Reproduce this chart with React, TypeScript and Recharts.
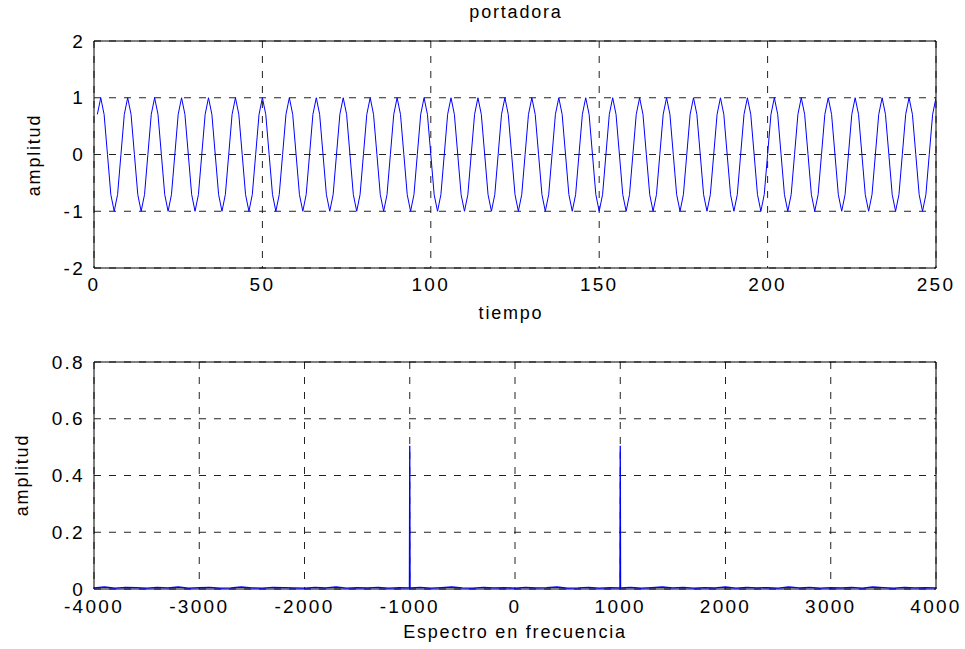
import React from "react";
import {
  LineChart,
  Line,
  XAxis,
  YAxis,
  CartesianGrid,
  ReferenceArea,
} from "recharts";

// carrier samples n = 1..250
const carrierValues = [
  0.707, 1, 0.707, 0, -0.707, -1, -0.707, 0,
  0.707, 1, 0.707, 0, -0.707, -1, -0.707, 0,
  0.707, 1, 0.707, 0, -0.707, -1, -0.707, 0,
  0.707, 1, 0.707, 0, -0.707, -1, -0.707, 0,
  0.707, 1, 0.707, 0, -0.707, -1, -0.707, 0,
  0.707, 1, 0.707, 0, -0.707, -1, -0.707, 0,
  0.707, 1, 0.707, 0, -0.707, -1, -0.707, 0,
  0.707, 1, 0.707, 0, -0.707, -1, -0.707, 0,
  0.707, 1, 0.707, 0, -0.707, -1, -0.707, 0,
  0.707, 1, 0.707, 0, -0.707, -1, -0.707, 0,
  0.707, 1, 0.707, 0, -0.707, -1, -0.707, 0,
  0.707, 1, 0.707, 0, -0.707, -1, -0.707, 0,
  0.707, 1, 0.707, 0, -0.707, -1, -0.707, 0,
  0.707, 1, 0.707, 0, -0.707, -1, -0.707, 0,
  0.707, 1, 0.707, 0, -0.707, -1, -0.707, 0,
  0.707, 1, 0.707, 0, -0.707, -1, -0.707, 0,
  0.707, 1, 0.707, 0, -0.707, -1, -0.707, 0,
  0.707, 1, 0.707, 0, -0.707, -1, -0.707, 0,
  0.707, 1, 0.707, 0, -0.707, -1, -0.707, 0,
  0.707, 1, 0.707, 0, -0.707, -1, -0.707, 0,
  0.707, 1, 0.707, 0, -0.707, -1, -0.707, 0,
  0.707, 1, 0.707, 0, -0.707, -1, -0.707, 0,
  0.707, 1, 0.707, 0, -0.707, -1, -0.707, 0,
  0.707, 1, 0.707, 0, -0.707, -1, -0.707, 0,
  0.707, 1, 0.707, 0, -0.707, -1, -0.707, 0,
  0.707, 1, 0.707, 0, -0.707, -1, -0.707, 0,
  0.707, 1, 0.707, 0, -0.707, -1, -0.707, 0,
  0.707, 1, 0.707, 0, -0.707, -1, -0.707, 0,
  0.707, 1, 0.707, 0, -0.707, -1, -0.707, 0,
  0.707, 1, 0.707, 0, -0.707, -1, -0.707, 0,
  0.707, 1, 0.707, 0, -0.707, -1, -0.707, 0,
  0.707, 1,
];

const timeTicks = [0, 50, 100, 150, 200, 250];
const amplitudeTicks = [-2, -1, 0, 1, 2];

// spectrum: frequency (Hz) and magnitude
const spectrumFreq = [
  -4000, -3900, -3800, -3700, -3600, -3500, -3400, -3300, -3200, -3100,
  -3000, -2900, -2800, -2700, -2600, -2500, -2400, -2300, -2200, -2100,
  -2000, -1900, -1800, -1700, -1600, -1500, -1400, -1300, -1200, -1100,
  -1003, -1000, -997, -900, -800, -700, -600, -500, -400, -300, -200, -100,
  0, 100, 200, 300, 400, 500, 600, 700, 800, 900, 997, 1000, 1003,
  1100, 1200, 1300, 1400, 1500, 1600, 1700, 1800, 1900, 2000,
  2100, 2200, 2300, 2400, 2500, 2600, 2700, 2800, 2900, 3000,
  3100, 3200, 3300, 3400, 3500, 3600, 3700, 3800, 3900, 4000,
];
const spectrumMag = [
  0.004, 0.007, 0.003, 0.006, 0.005, 0.003, 0.006, 0.004, 0.007, 0.003,
  0.005, 0.006, 0.003, 0.004, 0.007, 0.004, 0.003, 0.006, 0.005, 0.004,
  0.003, 0.006, 0.004, 0.007, 0.003, 0.005, 0.004, 0.006, 0.003, 0.005,
  0.004, 0.505, 0.004, 0.006, 0.003, 0.005, 0.007, 0.004, 0.003, 0.006, 0.004, 0.005,
  0.003, 0.006, 0.004, 0.005, 0.007, 0.003, 0.004, 0.006, 0.003, 0.005, 0.004, 0.505, 0.004,
  0.006, 0.003, 0.005, 0.007, 0.004, 0.006, 0.003, 0.005, 0.004, 0.007,
  0.003, 0.006, 0.004, 0.005, 0.003, 0.007, 0.004, 0.006, 0.003, 0.005,
  0.004, 0.006, 0.003, 0.007, 0.005, 0.003, 0.006, 0.004, 0.005, 0.004,
];
const freqTicks = [-4000, -3000, -2000, -1000, 0, 1000, 2000, 3000, 4000];
const magTicks = [0, 0.2, 0.4, 0.6, 0.8];

const carrierData = carrierValues.map((v, i) => ({ t: i + 1, v }));
const spectrumData = spectrumFreq.map((f, i) => ({ f, m: spectrumMag[i] }));

const FONT = "'Liberation Sans', Arial, Helvetica, sans-serif";
const tickStyle = { fontSize: 19, fill: "#000" };
const gridDash = "7 8";

const labelStyle: React.CSSProperties = {
  position: "absolute",
  fontSize: 18,
  letterSpacing: "1.8px",
  whiteSpace: "nowrap",
  transform: "translate(-50%, -50%)",
  color: "#000",
};

export default function App() {
  return (
    <div
      style={{
        position: "absolute",
        left: 0,
        top: 0,
        width: 965,
        height: 649,
        background: "#fff",
        fontFamily: FONT,
        letterSpacing: "2.3px",
      }}
    >
      <div style={{ position: "absolute", left: 0, top: 0 }}>
        <LineChart
          width={965}
          height={340}
          data={carrierData}
          margin={{ top: 41, right: 29, bottom: 42, left: 0 }}
        >
          <CartesianGrid stroke="#222" strokeDasharray={gridDash} />
          <XAxis
            dataKey="t"
            type="number"
            domain={[0, 250]}
            ticks={timeTicks}
            height={30}
            tickLine={false}
            tickSize={6}
            tickMargin={4}
            axisLine={false}
            tick={tickStyle}
            allowDataOverflow
          />
          <YAxis
            type="number"
            domain={[-2, 2]}
            ticks={amplitudeTicks}
            width={94}
            tickLine={false}
            tickSize={6}
            tickMargin={3}
            axisLine={false}
            tick={tickStyle}
            allowDataOverflow
          />
          <ReferenceArea x1={0} x2={250} y1={-2} y2={2} fill="none" stroke="#000" />
          <Line
            dataKey="v"
            stroke="#0000ff"
            strokeWidth={1}
            dot={false}
            isAnimationActive={false}
          />
        </LineChart>
      </div>
      <div style={{ position: "absolute", left: 0, top: 340 }}>
        <LineChart
          width={965}
          height={309}
          data={spectrumData}
          margin={{ top: 22, right: 29, bottom: 30, left: 0 }}
        >
          <CartesianGrid stroke="#222" strokeDasharray={gridDash} />
          <XAxis
            dataKey="f"
            type="number"
            domain={[-4000, 4000]}
            ticks={freqTicks}
            height={30}
            tickLine={false}
            tickSize={6}
            tickMargin={5}
            axisLine={false}
            tick={tickStyle}
            allowDataOverflow
          />
          <YAxis
            type="number"
            domain={[0, 0.8]}
            ticks={magTicks}
            width={94}
            tickLine={false}
            tickSize={6}
            tickMargin={3}
            axisLine={false}
            tick={tickStyle}
            allowDataOverflow
          />
          <ReferenceArea x1={-4000} x2={4000} y1={0} y2={0.8} fill="none" stroke="#000" />
          <Line
            dataKey="m"
            stroke="#0000ff"
            strokeWidth={1.3}
            dot={false}
            isAnimationActive={false}
          />
        </LineChart>
      </div>
      <div style={{ ...labelStyle, left: 516, top: 12 }}>portadora</div>
      <div style={{ ...labelStyle, left: 511, top: 313 }}>tiempo</div>
      <div style={{ ...labelStyle, left: 515, top: 632 }}>Espectro en frecuencia</div>
      <div
        style={{
          ...labelStyle,
          left: 34,
          top: 155,
          transform: "translate(-50%, -50%) rotate(-90deg)",
        }}
      >
        amplitud
      </div>
      <div
        style={{
          ...labelStyle,
          left: 22,
          top: 475,
          transform: "translate(-50%, -50%) rotate(-90deg)",
        }}
      >
        amplitud
      </div>
    </div>
  );
}
